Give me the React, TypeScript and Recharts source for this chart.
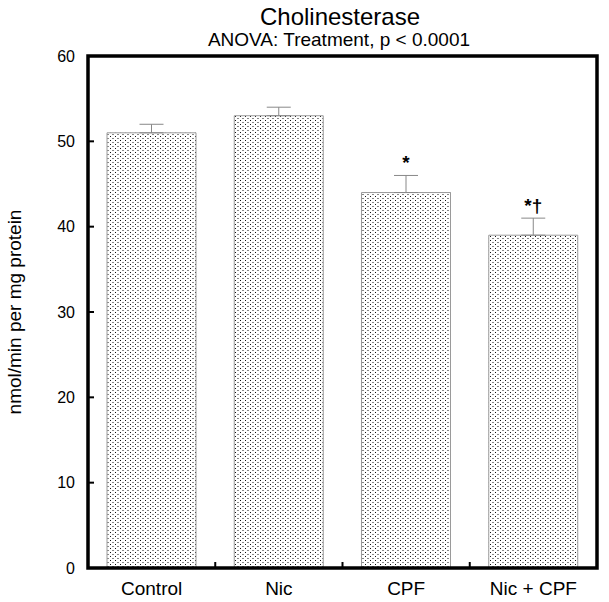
import React from 'react';
import { BarChart, Bar, XAxis, YAxis, ErrorBar, LabelList } from 'recharts';

const categories = ['Control', 'Nic', 'CPF', 'Nic + CPF'];
const means = [51, 53, 44, 39];
const sems = [1, 1, 2, 2];
const significance = ['', '', '*', '*†'];
const yTicks = [0, 10, 20, 30, 40, 50, 60];

const data = categories.map((name, i) => ({
  name,
  value: means[i],
  err: [0, sems[i]],
  sig: significance[i],
}));

const FONT = '"Liberation Sans", Arial, Helvetica, sans-serif';
const W = 609;
const H = 602;
const LEFT = 88;
const RIGHT_M = 12;
const TOP = 56;
const XAXIS_H = 34;
const plotWidth = W - LEFT - RIGHT_M;
const plotHeight = H - TOP - XAXIS_H;
const band = plotWidth / categories.length;

const YTick = (props: any) => {
  const { x, y, payload } = props;
  return (
    <g>
      <line x1={x} x2={x + 6} y1={y} y2={y} stroke="#000" strokeWidth={2} />
      <text x={x - 13} y={y} dy="0.35em" textAnchor="end" fontSize={16} fontFamily={FONT} fill="#000">
        {payload.value}
      </text>
    </g>
  );
};

const XTick = (props: any) => {
  const { x, y, payload, index } = props;
  const xb = x - band / 2;
  return (
    <g>
      {index > 0 && <line x1={xb} x2={xb} y1={y} y2={y - 6} stroke="#000" strokeWidth={2} />}
      <text x={x} y={y + 27} textAnchor="middle" fontSize={19} fontFamily={FONT} fill="#000">
        {payload.value}
      </text>
    </g>
  );
};

const SigLabel = (props: any) => {
  const { x, y, width, height, value, index } = props;
  if (!value) return null;
  const v = means[index];
  const errTop = y - (sems[index] * height) / v;
  return (
    <text x={x + width / 2} y={errTop - 6} textAnchor="middle" fontSize={19} fontWeight="bold" fontFamily={FONT} fill="#000">
      {value}
    </text>
  );
};

export default function App() {
  return (
    <div style={{ position: 'absolute', left: 0, top: 0, width: W, height: H, background: '#fff' }}>
      <svg width={0} height={0} style={{ position: 'absolute' }}>
        <defs>
          <pattern id="stipple" patternUnits="userSpaceOnUse" width={5} height={4}>
            <rect x={0} y={0} width={5} height={4} fill="#fff" />
            <rect x={0} y={0} width={1} height={1} fill="#111" />
            <rect x={2.5} y={2} width={1} height={1} fill="#111" />
          </pattern>
        </defs>
      </svg>
      <BarChart
        width={W}
        height={H}
        data={data}
        margin={{ top: TOP, right: RIGHT_M, left: 0, bottom: 0 }}
      >
        <XAxis
          dataKey="name"
          height={XAXIS_H}
          tick={<XTick />}
          tickLine={false}
          tickSize={0}
          tickMargin={0}
          axisLine={false}
          interval={0}
        />
        <YAxis
          domain={[0, 60]}
          ticks={yTicks}
          width={LEFT}
          tick={<YTick />}
          tickLine={false}
          tickSize={0}
          tickMargin={0}
          axisLine={false}
          interval={0}
        />
        <Bar dataKey="value" fill="url(#stipple)" stroke="#9a9a9a" strokeWidth={1} barSize={89} isAnimationActive={false}>
          <ErrorBar dataKey="err" width={12} stroke="#888" strokeWidth={1} direction="y" isAnimationActive={false} />
          <LabelList dataKey="sig" content={<SigLabel />} />
        </Bar>
      </BarChart>
      <svg width={W} height={H} style={{ position: 'absolute', left: 0, top: 0, pointerEvents: 'none' }}>
        <rect x={LEFT} y={TOP} width={plotWidth} height={plotHeight} fill="none" stroke="#000" strokeWidth={3.5} />
        <text x={340} y={25} textAnchor="middle" fontSize={24} fontFamily={FONT} fill="#000">
          Cholinesterase
        </text>
        <text x={339} y={46} textAnchor="middle" fontSize={19} fontFamily={FONT} fill="#000">
          ANOVA: Treatment, p &lt; 0.0001
        </text>
        <text
          x={21}
          y={312}
          transform="rotate(-90 21 312)"
          textAnchor="middle"
          fontSize={19}
          fontFamily={FONT}
          fill="#000"
        >
          nmol/min per mg protein
        </text>
      </svg>
    </div>
  );
}
